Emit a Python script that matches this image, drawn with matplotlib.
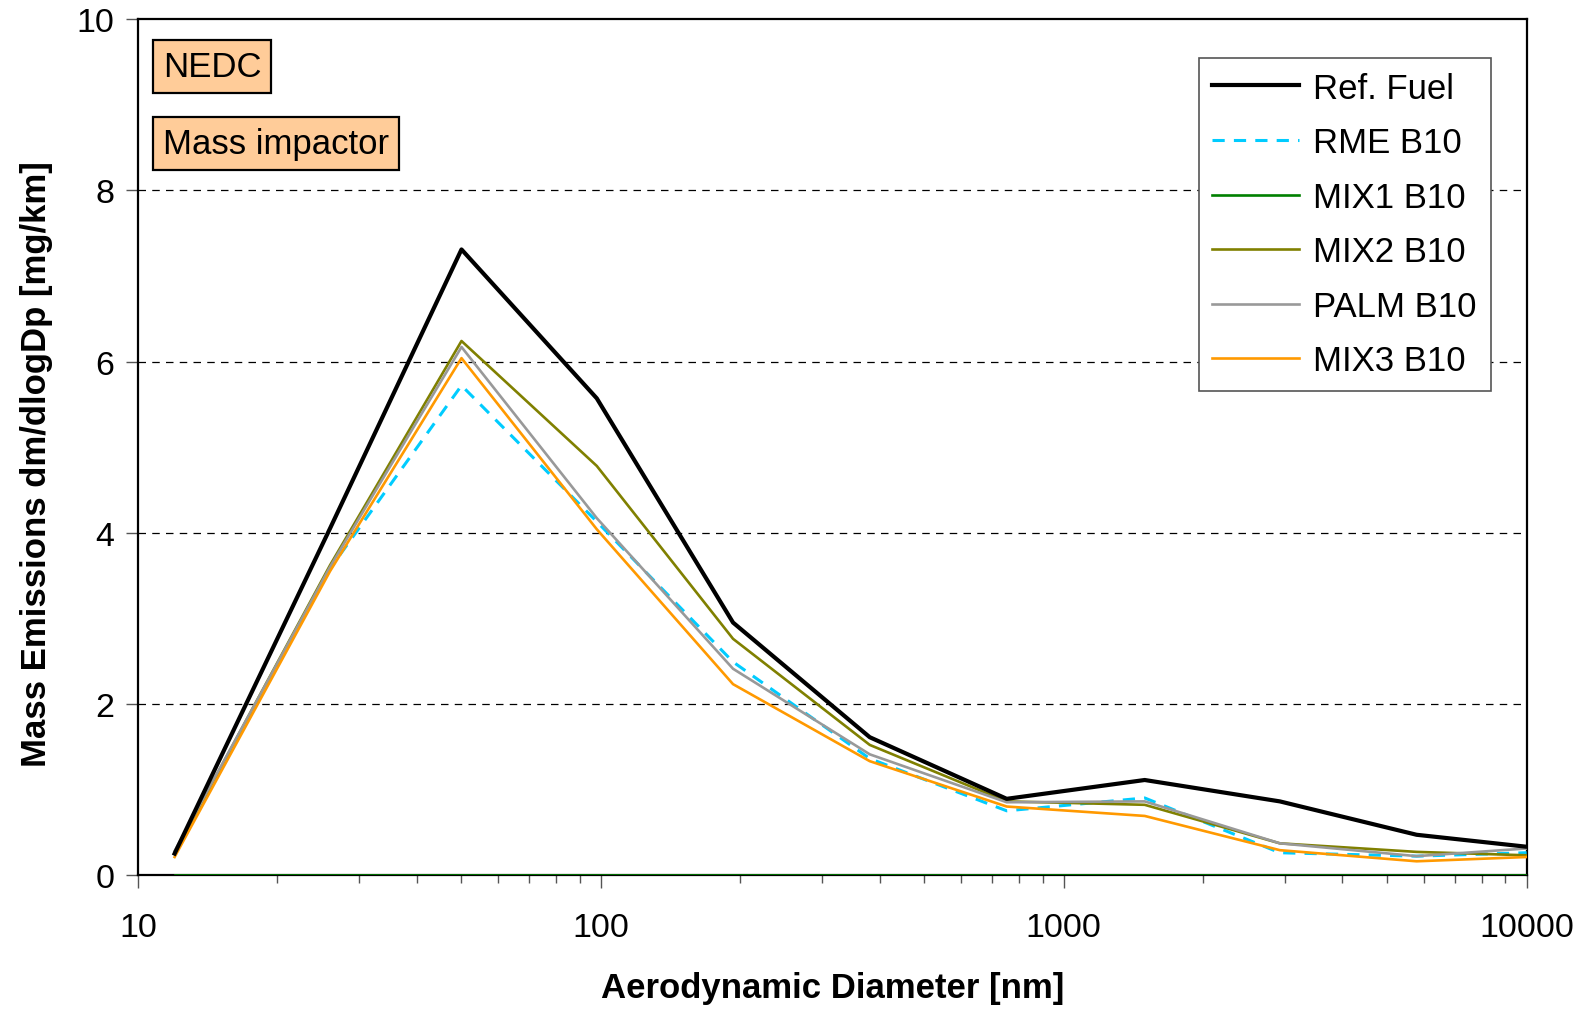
import matplotlib
matplotlib.use('Agg')
import matplotlib.pyplot as plt

plt.rcParams['font.family'] = ['Liberation Sans', 'DejaVu Sans']

# === Data ===
diam = [12, 26, 50, 98, 193, 381, 753, 1496, 2930, 5785, 10000]

ref_fuel = [0.25, 4.05, 7.31, 5.57, 2.95, 1.61, 0.89, 1.11, 0.86, 0.47, 0.33]
rme_b10  = [0.24, 3.58, 5.72, 4.13, 2.49, 1.36, 0.75, 0.90, 0.26, 0.22, 0.26]
mix1_b10 = [0, 0, 0, 0, 0, 0, 0, 0, 0, 0, 0]
mix2_b10 = [0.26, 3.62, 6.24, 4.78, 2.76, 1.52, 0.86, 0.82, 0.37, 0.27, 0.23]
palm_b10 = [0.28, 3.60, 6.17, 4.17, 2.41, 1.41, 0.85, 0.86, 0.37, 0.22, 0.31]
mix3_b10 = [0.21, 3.55, 6.04, 4.04, 2.23, 1.33, 0.80, 0.69, 0.29, 0.16, 0.21]

x_ticks = [10, 100, 1000, 10000]
y_ticks = [0, 2, 4, 6, 8, 10]

# === Figure ===
fig = plt.figure(figsize=(15.82, 10.12), dpi=100)
ax = fig.add_axes([0.0872, 0.1344, 0.8778, 0.8456])

ax.plot(diam, ref_fuel, color='black', lw=3.0, label='Ref. Fuel', zorder=6)
ax.plot(diam, rme_b10, color='#00CCFF', lw=2.2, ls=(0, (4, 3)), label='RME B10', zorder=3)
ax.plot(diam, mix1_b10, color='#008000', lw=1.9, label='MIX1 B10', zorder=5)
ax.plot(diam, mix2_b10, color='#808000', lw=1.9, label='MIX2 B10', zorder=4)
ax.plot(diam, palm_b10, color='#999999', lw=1.9, label='PALM B10', zorder=4)
ax.plot(diam, mix3_b10, color='#FF9900', lw=1.9, label='MIX3 B10', zorder=4)

ax.set_xscale('log')
ax.set_xlim(10, 10000)
ax.set_ylim(0, 10)
ax.set_xticks(x_ticks)
ax.set_xticklabels([str(t) for t in x_ticks])
ax.set_yticks(y_ticks)

# dashed horizontal grid
for y in y_ticks[1:-1]:
    ax.axhline(y, color='black', lw=0.9, ls=(0, (6, 5)), zorder=1)

ax.tick_params(axis='both', which='major', direction='out', length=9,
               width=1.0, labelsize=24.5, color='#555555')
ax.tick_params(axis='x', which='minor', direction='out', length=6,
               width=1.0, color='#555555')
ax.tick_params(axis='x', pad=18)
ax.tick_params(axis='y', pad=8)

for s in ax.spines.values():
    s.set_linewidth(1.6)
    s.set_color('black')

ax.set_xlabel('Aerodynamic Diameter [nm]', fontsize=25, fontweight='bold', labelpad=20)
ax.set_ylabel('Mass Emissions dm/dlogDp [mg/km]', fontsize=25, fontweight='bold')
ax.yaxis.set_label_coords(-0.061, 0.481)

# annotation boxes
box = dict(boxstyle='square,pad=0.28', facecolor='#FFCC99', edgecolor='black', lw=1.6)
ax.text(0.018, 0.945, 'NEDC', transform=ax.transAxes, fontsize=25,
        va='center', ha='left', bbox=box)
ax.text(0.018, 0.855, 'Mass impactor', transform=ax.transAxes, fontsize=25,
        va='center', ha='left', bbox=box)

leg = ax.legend(loc='upper right', bbox_to_anchor=(0.974, 0.955), fontsize=25,
                handlelength=2.5, labelspacing=0.62, borderpad=0.4,
                borderaxespad=0, handletextpad=0.4, fancybox=False, framealpha=1)
leg.get_frame().set_edgecolor('#555555')
leg.get_frame().set_linewidth(1.2)

fig.savefig('out.png', dpi=100)
